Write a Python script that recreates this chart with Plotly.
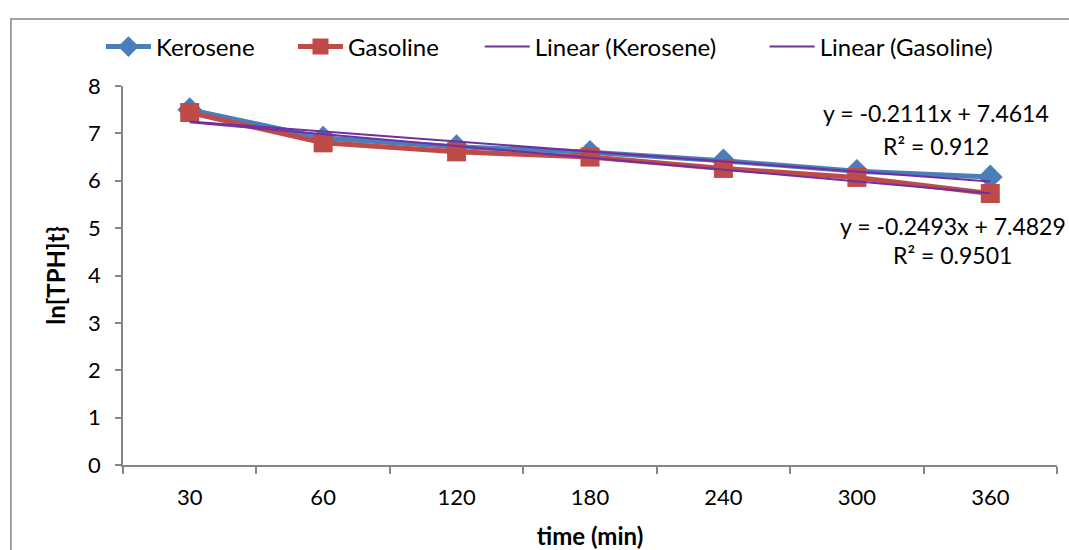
import plotly.graph_objects as go

categories = ["30", "60", "120", "180", "240", "300", "360"]
kerosene = [7.50, 6.90, 6.72, 6.60, 6.42, 6.20, 6.08]
gasoline = [7.44, 6.80, 6.61, 6.50, 6.26, 6.07, 5.73]
# trendline equations as printed on the chart (x = category index 1..7)
ker_slope, ker_intercept, ker_r2 = -0.2111, 7.4614, "0.912"
gas_slope, gas_intercept, gas_r2 = -0.2493, 7.4829, "0.9501"
y_ticks = [0, 1, 2, 3, 4, 5, 6, 7, 8]

FONT = "Lato"
BLUE = "#4A7EBB"
RED = "#BE4B48"
PURPLE = "#7030A0"
GRAY = "#868686"

idx = list(range(1, len(categories) + 1))
ker_trend = [ker_slope * i + ker_intercept for i in idx]
gas_trend = [gas_slope * i + gas_intercept for i in idx]

fig = go.Figure()
fig.add_trace(go.Scatter(x=categories, y=kerosene, name="Kerosene", mode="lines+markers",
                         line=dict(color=BLUE, width=5), legend="legend",
                         marker=dict(symbol="diamond", size=19, color=BLUE)))
fig.add_trace(go.Scatter(x=categories, y=gasoline, name="Gasoline", mode="lines+markers",
                         line=dict(color=RED, width=5), legend="legend2",
                         marker=dict(symbol="square", size=19, color=RED)))
fig.add_trace(go.Scatter(x=categories, y=ker_trend, name="Linear (Kerosene)", mode="lines",
                         line=dict(color=PURPLE, width=2), legend="legend3"))
fig.add_trace(go.Scatter(x=categories, y=gas_trend, name="Linear (Gasoline)", mode="lines",
                         line=dict(color=PURPLE, width=2), legend="legend4"))

ann = [
    (5.59, 7.43, f"y = {ker_slope}x + {ker_intercept}"),
    (5.59, 6.74, f"R² = {ker_r2}"),
    (5.72, 5.05, f"y = {gas_slope}x + {gas_intercept}"),
    (5.72, 4.43, f"R² = {gas_r2}"),
]
for x, y, t in ann:
    fig.add_annotation(x=x, y=y, xref="x", yref="y", text=t, showarrow=False,
                       font=dict(family=FONT, size=23, color="black"),
                       xanchor="center", yanchor="middle")

fig.add_shape(type="rect", xref="paper", yref="paper", x0=-0.12, x1=1.05, y0=-0.30, y1=1.177,
              line=dict(color=GRAY, width=1.5), fillcolor="rgba(0,0,0,0)", layer="below")

def leg(x):
    return dict(orientation="h", x=x, y=1.103, xanchor="left", yanchor="middle",
                font=dict(family=FONT, size=24, color="black"),
                itemwidth=45, bgcolor="rgba(0,0,0,0)")

fig.update_layout(
    width=1069, height=550,
    margin=dict(l=123, r=12, t=86, b=85),
    paper_bgcolor="white", plot_bgcolor="white",
    font=dict(family=FONT, size=22, color="black"),
    showlegend=True,
    legend=leg(-0.0236), legend2=leg(0.182), legend3=leg(0.382), legend4=leg(0.687),
    xaxis=dict(type="category", range=[-0.5, 6.5], showline=True, linecolor=GRAY, linewidth=1.5,
               ticks="outside", ticklen=7, tickcolor=GRAY, tickwidth=1.5, tickson="boundaries",
               showgrid=False, zeroline=False, ticklabelstandoff=12, automargin=False,
               title=dict(text="<b>time (min)</b>", font=dict(family=FONT, size=24), standoff=20),
               tickfont=dict(family=FONT, size=22)),
    yaxis=dict(range=[0, 8], tickvals=y_ticks, showline=True, linecolor=GRAY, linewidth=1.5,
               ticks="outside", ticklen=6, tickcolor=GRAY, tickwidth=1.5, automargin=False,
               showgrid=False, zeroline=False, ticklabelstandoff=10,
               title=dict(text="<b>ln[TPH]t}</b>", font=dict(family=FONT, size=24), standoff=16),
               tickfont=dict(family=FONT, size=22)),
)

fig.write_html("out.html")
